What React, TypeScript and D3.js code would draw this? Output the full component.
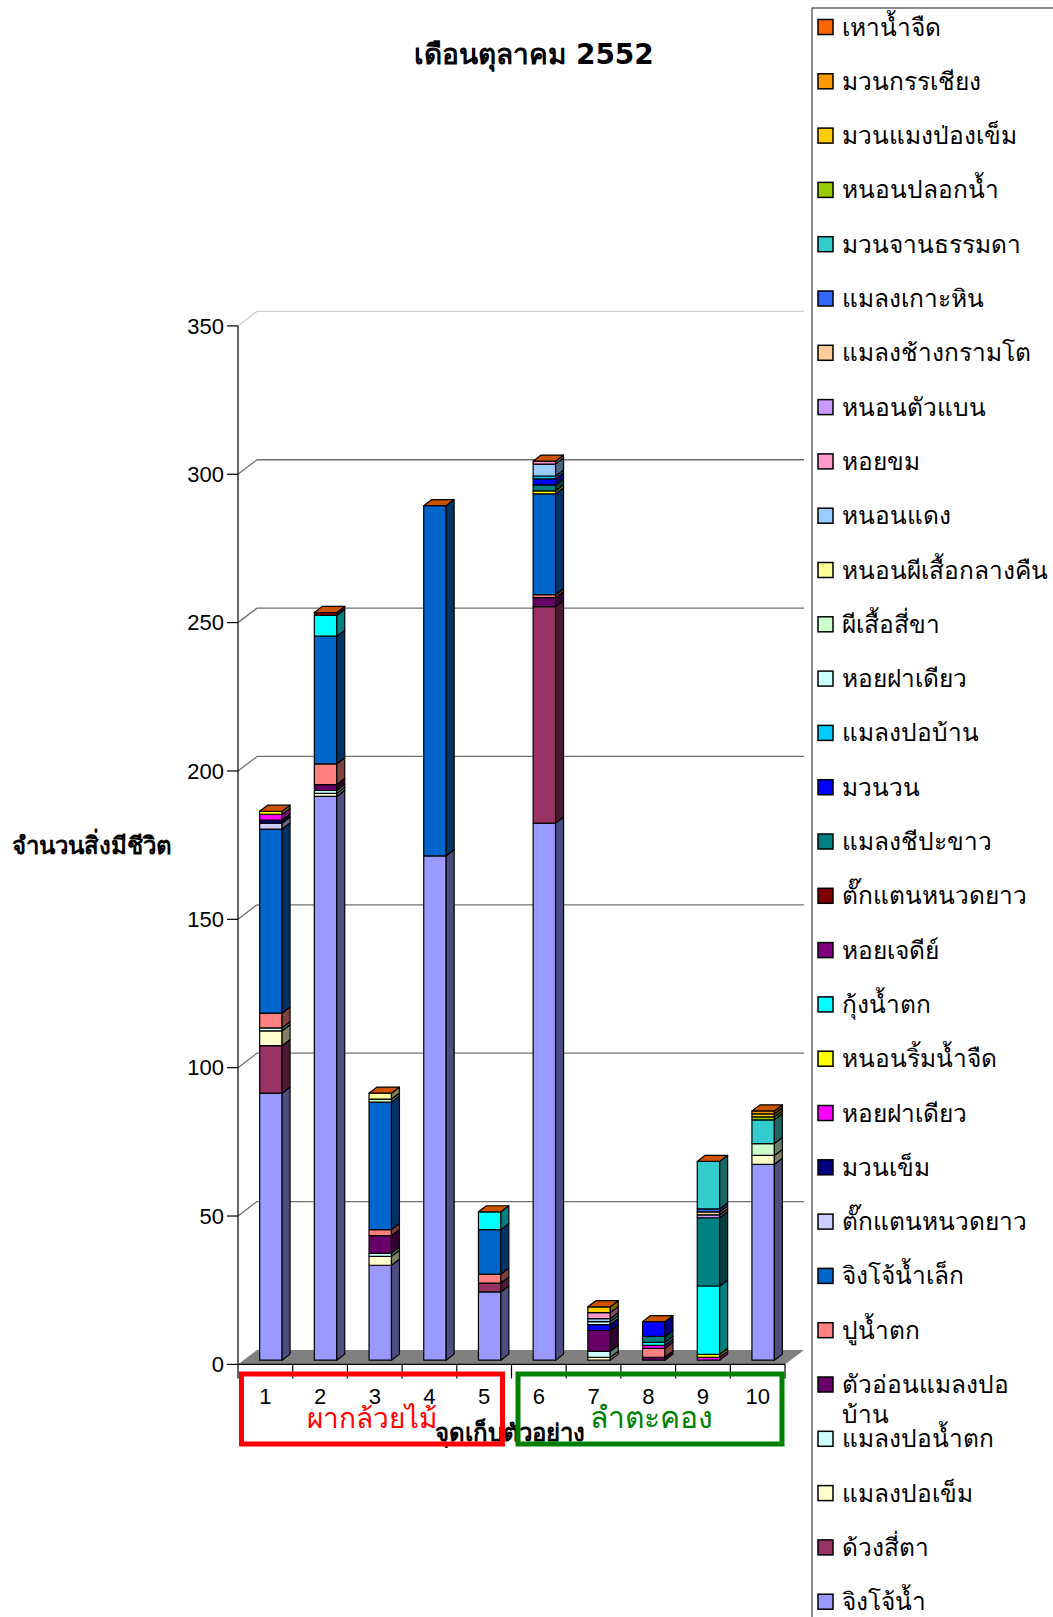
import React from "react";
import * as d3 from "d3";

// Sampling sites on the x axis
const sites = ["1", "2", "3", "4", "5", "6", "7", "8", "9", "10"];

// Series names, stacked bottom to top
const seriesNames = [
  "จิงโจ้น้ำ",
  "ด้วงสี่ตา",
  "แมลงปอเข็ม",
  "แมลงปอน้ำตก",
  "ตัวอ่อนแมลงปอ\nบ้าน",
  "ปูน้ำตก",
  "จิงโจ้น้ำเล็ก",
  "ตั๊กแตนหนวดยาว",
  "มวนเข็ม",
  "หอยฝาเดียว",
  "หนอนริ้มน้ำจืด",
  "กุ้งน้ำตก",
  "หอยเจดีย์",
  "ตั๊กแตนหนวดยาว",
  "แมลงชีปะขาว",
  "มวนวน",
  "แมลงปอบ้าน",
  "หอยฝาเดียว",
  "ผีเสื้อสี่ขา",
  "หนอนผีเสื้อกลางคืน",
  "หนอนแดง",
  "หอยขม",
  "หนอนตัวแบน",
  "แมลงช้างกรามโต",
  "แมลงเกาะหิน",
  "มวนจานธรรมดา",
  "หนอนปลอกน้ำ",
  "มวนแมงป่องเข็ม",
  "มวนกรรเชียง",
  "เหาน้ำจืด",
];

const seriesColors = [
  "#9999FF", "#993366", "#FFFFCC", "#CCFFFF", "#660066", "#FF8080",
  "#0066CC", "#CCCCFF", "#000080", "#FF00FF", "#FFFF00", "#00FFFF",
  "#800080", "#800000", "#008080", "#0000FF", "#00CCFF", "#CCFFFF",
  "#CCFFCC", "#FFFF99", "#99CCFF", "#FF99CC", "#CC99FF", "#FFCC99",
  "#3366FF", "#33CCCC", "#99CC00", "#FFCC00", "#FF9900", "#FF6600",
];

// Counts per site (sites 1..10) for each taxon
const jingjoNam = [90, 190, 32, 170, 23, 181, 0, 0, 0, 66];
const duangSiTa = [16, 0, 0, 0, 3, 73, 0, 0, 0, 0];
const malaengPoKhem = [5, 1, 3, 0, 0, 0, 1, 0, 0, 3];
const malaengPoNamtok = [1, 1, 1, 0, 0, 0, 2, 0, 0, 0];
const tuaonMalaengPoBan = [0, 2, 6, 0, 0, 3, 7, 1, 0, 0];
const puNamtok = [5, 7, 2, 0, 3, 1, 0, 3, 0, 0];
const jingjoNamLek = [62, 43, 43, 118, 15, 34, 0, 0, 0, 0];
const takkataenA = [2, 0, 0, 0, 0, 0, 0, 0, 0, 0];
const muanKhem = [1, 0, 0, 0, 0, 0, 0, 0, 0, 0];
const hoiFadiaoA = [2, 0, 0, 0, 0, 0, 0, 1, 1, 0];
const nonRimNamjuet = [1, 0, 0, 0, 0, 1, 0, 0, 1, 0];
const kungNamtok = [0, 7, 0, 0, 6, 0, 0, 1, 23, 0];
const hoiJedi = [0, 0, 0, 0, 0, 0, 0, 0, 0, 0];
const takkataenB = [0, 1, 0, 0, 0, 0, 0, 0, 0, 0];
const malaengChipakhao = [0, 0, 0, 0, 0, 2, 0, 2, 23, 0];
const muanWon = [0, 0, 0, 0, 0, 2, 2, 5, 0, 0];
const malaengPoBan = [0, 0, 0, 0, 0, 1, 0, 0, 0, 0];
const hoiFadiaoB = [0, 0, 0, 0, 0, 0, 1, 0, 0, 0];
const phisueaSiKha = [0, 0, 1, 0, 0, 0, 0, 0, 0, 4];
const nonPhisueaKlangkhuen = [0, 0, 2, 0, 0, 0, 0, 0, 0, 0];
const nonDaeng = [0, 0, 0, 0, 0, 4, 1, 0, 0, 0];
const hoiKhom = [0, 0, 0, 0, 0, 1, 2, 0, 0, 0];
const nonTuaBaen = [0, 0, 0, 0, 0, 0, 0, 0, 1, 0];
const malaengChangKramto = [0, 0, 0, 0, 0, 0, 0, 0, 1, 0];
const malaengKohHin = [0, 0, 0, 0, 0, 0, 0, 0, 1, 0];
const muanJanThammada = [0, 0, 0, 0, 0, 0, 0, 0, 16, 8];
const nonPlokNam = [0, 0, 0, 0, 0, 0, 0, 0, 0, 1];
const muanMaengpongKhem = [0, 0, 0, 0, 0, 0, 2, 0, 0, 1];
const muanKanchiang = [0, 0, 0, 0, 0, 0, 0, 0, 0, 1];
const haoNamjuet = [0, 0, 0, 0, 0, 0, 0, 0, 0, 0];

const seriesValues = [
  jingjoNam, duangSiTa, malaengPoKhem, malaengPoNamtok, tuaonMalaengPoBan,
  puNamtok, jingjoNamLek, takkataenA, muanKhem, hoiFadiaoA, nonRimNamjuet,
  kungNamtok, hoiJedi, takkataenB, malaengChipakhao, muanWon, malaengPoBan,
  hoiFadiaoB, phisueaSiKha, nonPhisueaKlangkhuen, nonDaeng, hoiKhom,
  nonTuaBaen, malaengChangKramto, malaengKohHin, muanJanThammada, nonPlokNam,
  muanMaengpongKhem, muanKanchiang, haoNamjuet,
];

const yTicks = [0, 50, 100, 150, 200, 250, 300, 350];

const title = "เดือนตุลาคม 2552";
const yTitle = "จำนวนสิ่งมีชีวิต";
const xTitle = "จุดเก็บตัวอย่าง";
const groupLabels = ["ผากล้วยไม้", "ลำตะคอง"];

const W = 1053;
const H = 1617;
const FONT = "'Liberation Sans', Arial, sans-serif";
const THAI = "'DejaVu Sans', 'Noto Sans', sans-serif";

// Oblique depth vector of the plot box
const DX = 19;
const DY = -14.5;
// Bars occupy this slice of the depth
const Z0 = 0.29;
const Z1 = 0.71;

function shade(c: string, f: number) {
  const r = d3.rgb(c);
  return d3.rgb(r.r * f, r.g * f, r.b * f).formatHex();
}

const pts = (p: number[][]) => p.map((q) => q.join(",")).join(" ");

export default function App() {
  const x = d3
    .scaleBand<string>()
    .domain(sites)
    .range([238, 785])
    .paddingInner(0.59)
    .paddingOuter(0.295);
  const band = d3.scaleBand<string>().domain(sites).range([238, 785]);
  const y = d3.scaleLinear().domain([0, 350]).range([1364.4, 325.9]);

  const stack = d3
    .stack<number>()
    .keys(d3.range(seriesNames.length).map(String))
    .value((i, k) => seriesValues[+k][i]);
  const layers = stack(d3.range(sites.length));

  const bw = x.bandwidth();
  const y0 = y(0);

  const bars: React.ReactNode[] = [];
  sites.forEach((s, i) => {
    const bx = x(s)!;
    const fx = bx + Z0 * DX;
    const sx = bx + bw;
    layers.forEach((layer, k) => {
      const [v0, v1] = layer[i];
      if (v1 - v0 <= 0) return;
      const yt = y(v1);
      const yb = y(v0);
      const col = seriesColors[k];
      bars.push(
        <g key={`b${i}-${k}`} stroke="#000" strokeWidth={1.2} strokeLinejoin="round">
          <rect x={fx} y={yt + Z0 * DY} width={bw} height={yb - yt} fill={col} />
          <polygon
            points={pts([
              [sx + Z0 * DX, yt + Z0 * DY],
              [sx + Z1 * DX, yt + Z1 * DY],
              [sx + Z1 * DX, yb + Z1 * DY],
              [sx + Z0 * DX, yb + Z0 * DY],
            ])}
            fill={shade(col, 0.5)}
          />
        </g>
      );
    });
    // top face of the stack takes the top series colour
    const topLayer = layers[layers.length - 1];
    const yt = y(topLayer[i][1]);
    bars.push(
      <polygon
        key={`t${i}`}
        points={pts([
          [bx + Z0 * DX, yt + Z0 * DY],
          [sx + Z0 * DX, yt + Z0 * DY],
          [sx + Z1 * DX, yt + Z1 * DY],
          [bx + Z1 * DX, yt + Z1 * DY],
        ])}
        fill={shade(seriesColors[seriesColors.length - 1], 0.8)}
        stroke="#000"
        strokeWidth={1.2}
        strokeLinejoin="round"
      />
    );
  });

  const xl = 238;
  const xr = 785;
  const legendItems = seriesNames.map((n, k) => ({ n, c: seriesColors[k] })).reverse();

  return (
    <svg
      width={W}
      height={H}
      style={{ position: "absolute", left: 0, top: 0, background: "#fff" }}
    >
      <rect x={0} y={0} width={W} height={H} fill="#fff" />
      <text x={534} y={64} textAnchor="middle" fontFamily={THAI} fontWeight="bold" fontSize={28}>
        {title}
      </text>

      {/* floor */}
      <polygon
        points={pts([
          [xl, y0],
          [xr, y0],
          [xr + DX, y0 + DY],
          [xl + DX, y0 + DY],
        ])}
        fill="#808080"
      />

      {/* wall gridlines */}
      {yTicks.slice(1).map((t) => (
        <g key={`g${t}`} stroke={t === 350 ? "#d0d0d0" : "#707070"} strokeWidth={1.3}>
          <line x1={xl} y1={y(t)} x2={xl + DX} y2={y(t) + DY} />
          <line x1={xl + DX} y1={y(t) + DY} x2={xr + DX} y2={y(t) + DY} />
        </g>
      ))}

      {/* y axis */}
      <line x1={xl} y1={y(350)} x2={xl} y2={y0} stroke="#000" strokeWidth={1.2} />
      {yTicks.map((t) => (
        <g key={`yt${t}`}>
          <line x1={xl - 11} x2={xl} y1={y(t)} y2={y(t)} stroke="#000" strokeWidth={1.2} />
          <text
            x={xl - 14}
            y={y(t)}
            dy="0.35em"
            textAnchor="end"
            fontFamily={FONT}
            fontSize={22}
          >
            {t}
          </text>
        </g>
      ))}

      {/* x axis */}
      <line x1={xl} y1={y0} x2={xr} y2={y0} stroke="#000" strokeWidth={1.2} />
      {d3.range(sites.length + 1).map((k) => {
        const bx = k < sites.length ? band(sites[k])! : xr;
        return <line key={`xt${k}`} x1={bx} x2={bx} y1={y0} y2={y0 + 14} stroke="#000" strokeWidth={1.2} />;
      })}

      {bars}

      {sites.map((s) => (
        <text
          key={`xl${s}`}
          x={band(s)! + band.bandwidth() / 2}
          y={1404}
          textAnchor="middle"
          fontFamily={FONT}
          fontSize={22}
        >
          {s}
        </text>
      ))}

      <text x={12} y={854} fontFamily={THAI} fontWeight="bold" fontSize={24}>
        {yTitle}
      </text>
      <text x={510} y={1441} textAnchor="middle" fontFamily={THAI} fontWeight="bold" fontSize={24}>
        {xTitle}
      </text>

      {/* site groups */}
      <rect x={241.5} y={1374} width={261} height={70} fill="none" stroke="#FF0000" strokeWidth={5} />
      <rect x={518} y={1374} width={264} height={70} fill="none" stroke="#008000" strokeWidth={5} />
      <text x={372} y={1428} textAnchor="middle" fontFamily={THAI} fontSize={28} fill="#FF0000">
        {groupLabels[0]}
      </text>
      <text x={651} y={1428} textAnchor="middle" fontFamily={THAI} fontSize={30} fill="#008000">
        {groupLabels[1]}
      </text>

      {/* legend */}
      <rect x={812} y={8} width={300} height={1700} fill="#fff" stroke="#404040" strokeWidth={1.2} />
      {legendItems.map((it, k) => {
        const cy = 27 + k * 54.3;
        const lines = it.n.split("\n");
        return (
          <g key={`lg${k}`}>
            <rect x={818} y={cy - 7.5} width={15} height={15} fill={it.c} stroke="#000" strokeWidth={1.5} />
            <text x={842} y={cy} fontFamily={THAI} fontSize={24.5}>
              {lines.map((l, j) => (
                <tspan key={j} x={842} dy={j === 0 ? "0.35em" : 30}>
                  {l}
                </tspan>
              ))}
            </text>
          </g>
        );
      })}
    </svg>
  );
}
